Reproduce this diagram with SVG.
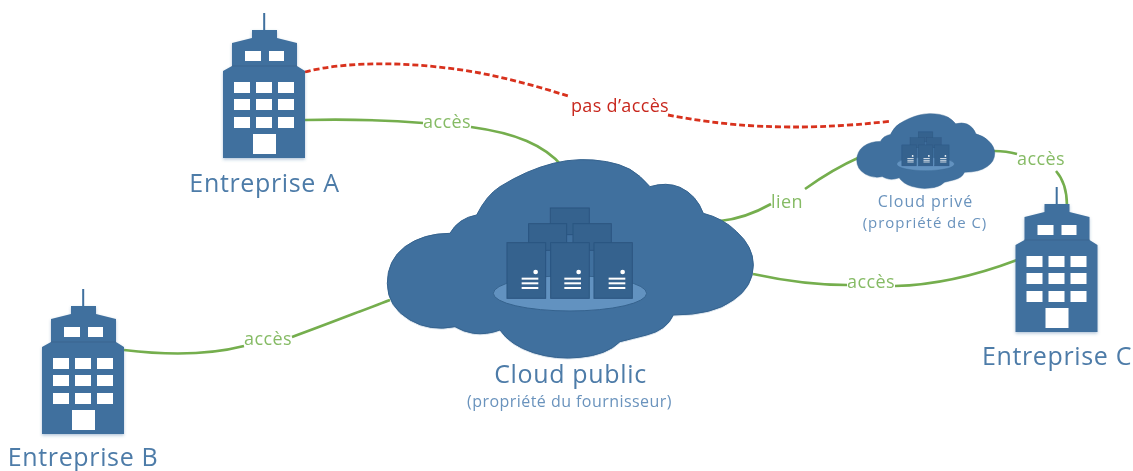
<svg xmlns="http://www.w3.org/2000/svg" width="1133" height="471" viewBox="0 0 1133 471">
<style>
text{font-family:"Open Sans","Noto Sans","Liberation Sans",sans-serif;text-anchor:middle}
.b{fill:#40709e}
.w{fill:#fff}
.name{fill:#4d7ba8;font-size:25px;letter-spacing:.65px}
.sub{fill:#6a93bd;font-size:16px;letter-spacing:.45px}
.sub2{fill:#6a93bd;font-size:15px;letter-spacing:.95px}
.priv{fill:#6a93bd;font-size:16px;letter-spacing:.95px}
.g{fill:#86bb65;font-size:18px;letter-spacing:.4px}
.r{fill:#c8281e;font-size:18px;letter-spacing:.35px}
.lg{fill:none;stroke:#74ae4e;stroke-width:2.6}
.lr{fill:none;stroke:#d8301f;stroke-width:2.8;stroke-dasharray:6 3}
.sv{fill:#35628e;stroke:#2b5580;stroke-width:3}
</style>
<defs>
<filter id="soft" x="-2%" y="-2%" width="104%" height="104%"><feGaussianBlur stdDeviation="0.6"/></filter>
<filter id="sh" x="-5%" y="-5%" width="110%" height="112%"><feDropShadow dx="0" dy="1.5" stdDeviation="1.5" flood-color="#40709e" flood-opacity="0.4"/></filter>
<g id="building">
<rect class="b" x="40.2" y="0" width="2" height="18"/>
<path class="b" d="M29,17H54V25L74,30V53L82,58V145H0V58L9,53V30L29,25Z" filter="url(#sh)"/>
<path d="M9,53H74" stroke="#38658f" stroke-width="1" fill="none"/>
<g class="w">
<rect x="22" y="38" width="16" height="10"/><rect x="46" y="38" width="15" height="10"/>
<rect x="11" y="69" width="16" height="11"/><rect x="33" y="69" width="16" height="11"/><rect x="55" y="69" width="16" height="11"/>
<rect x="11" y="86" width="16" height="11"/><rect x="33" y="86" width="16" height="11"/><rect x="55" y="86" width="16" height="11"/>
<rect x="11" y="104" width="16" height="11"/><rect x="33" y="104" width="16" height="11"/><rect x="55" y="104" width="16" height="11"/>
<rect x="30" y="121" width="23" height="20"/>
</g>
</g>
<g id="cloud">
<path class="b" stroke="#35628e" stroke-width="3" d="M290,195Q320,135 360,110Q400,85 440,67.500Q480,50 520,40Q560,30 600,29Q640,28 680,35Q720,42 750,58Q780,75 810,110Q860,95 900,112Q950,135 970,190Q1030,205 1070,245Q1120,290 1120,345Q1120,410 1060,450Q1000,495 880,495Q860,540 800,555Q760,565 720,575Q680,615 600,622Q530,630 460,608Q390,585 360,540Q320,555 280,550Q250,545 225,530Q150,545 90,510Q22,470 22,400Q22,330 75,290Q130,250 210,250Q235,205 290,195Z" filter="url(#sh)"/>
<ellipse cx="570" cy="430" rx="230" ry="53" fill="#6292c0" stroke="#35628e" stroke-width="3"/>
<rect class="sv" x="511" y="174" width="117" height="80"/>
<rect class="sv" x="446" y="221" width="114" height="80"/>
<rect class="sv" x="579" y="221" width="115" height="80"/>
<rect class="sv" x="381" y="278" width="116" height="167"/>
<rect class="sv" x="512" y="278" width="116" height="167"/>
<rect class="sv" x="642" y="278" width="115" height="167"/>
<g class="w">
<circle cx="467" cy="366" r="7"/><circle cx="596" cy="366" r="7"/><circle cx="728" cy="366" r="7"/>
<rect x="425" y="383" width="50" height="6"/><rect x="425" y="397" width="50" height="6"/><rect x="425" y="411" width="50" height="6"/>
<rect x="553" y="383" width="50" height="6"/><rect x="553" y="397" width="50" height="6"/><rect x="553" y="411" width="50" height="6"/>
<rect x="686" y="383" width="50" height="6"/><rect x="686" y="397" width="50" height="6"/><rect x="686" y="411" width="50" height="6"/>
</g>
</g>
</defs>
<rect width="1133" height="471" fill="#fff"/>
<g filter="url(#soft)">
<g id="connectors">
<path class="lg" d="M305,120C345,119 385,120 423,123"/>
<path class="lg" d="M471,127C515,133 545,145 563,167"/>
<path class="lg" d="M124,350C165,355 205,356 244,346"/>
<path class="lg" d="M292,337C325,325 358,312 390,300"/>
<path class="lg" d="M720,221C740,219 755,213 771,204"/>
<path class="lg" d="M805,189C823,176 842,165 860,157"/>
<path class="lg" d="M753,274C790,282 820,285 847,285"/>
<path class="lg" d="M895,286C940,285 980,274 1017,260"/>
<path class="lg" d="M994,151C1002,151 1010,152 1017,154"/>
<path class="lg" d="M1056,171C1064,180 1067,192 1067,206"/>
<path class="lr" d="M305,72C350,60 420,62 480,73C510,79 540,87 568,96"/>
<path class="lr" d="M668,115C720,125 790,133 892,121"/>
</g>
<g id="cloud-public"><use href="#cloud" transform="translate(380,150) scale(.3333)"/>
<text class="name" x="570.500" y="383">Cloud public</text>
<text class="sub" x="569.500" y="407">(propriété du fournisseur)</text></g>
<g id="cloud-prive"><use href="#cloud" transform="translate(854,110) scale(.1256)"/>
<text class="priv" x="925.500" y="207">Cloud privé</text>
<text class="sub2" x="925" y="228">(propriété de C)</text></g>
<g id="entreprise-a"><use href="#building" transform="translate(223,13)"/>
<text class="name" x="264.500" y="192">Entreprise A</text></g>
<g id="entreprise-b"><use href="#building" transform="translate(42,289)"/>
<text class="name" x="83" y="466">Entreprise B</text></g>
<g id="entreprise-c"><use href="#building" transform="translate(1015.500,187)"/>
<text class="name" x="1057" y="365">Entreprise C</text></g>
<g id="labels">
<text class="g" x="447" y="128">accès</text>
<text class="g" x="268" y="345">accès</text>
<text class="g" x="787" y="208">lien</text>
<text class="g" x="871" y="288">accès</text>
<text class="g" x="1041" y="165">accès</text>
<text class="r" x="620" y="112">pas d’accès</text>
</g>
</g>
</svg>
